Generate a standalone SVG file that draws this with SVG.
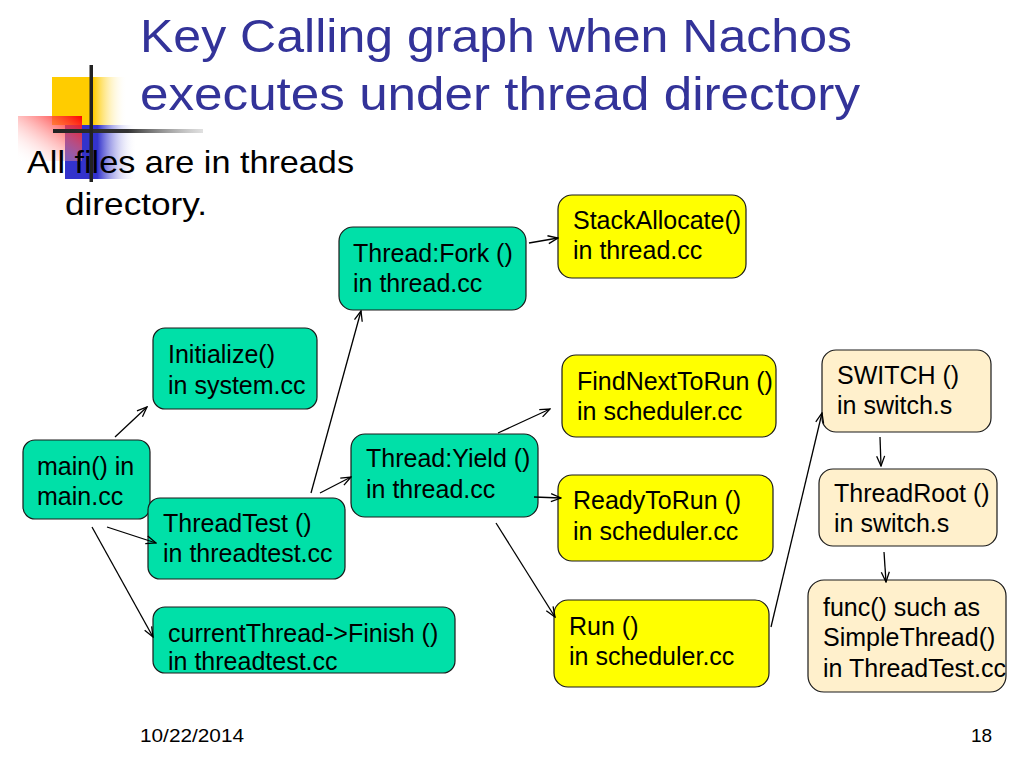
<svg xmlns="http://www.w3.org/2000/svg" width="1024" height="768" viewBox="0 0 1024 768">
<defs>
<linearGradient id="gy" x1="0" y1="0" x2="1" y2="0"><stop offset="0" stop-color="#FFCC00"/><stop offset="0.55" stop-color="#FFCC00"/><stop offset="1" stop-color="#FFFFFF" stop-opacity="0"/></linearGradient>
<linearGradient id="gb" x1="0" y1="0" x2="1" y2="0"><stop offset="0" stop-color="#3333CC"/><stop offset="0.45" stop-color="#3333CC"/><stop offset="1" stop-color="#FFFFFF" stop-opacity="0"/></linearGradient>
<linearGradient id="gr" x1="1" y1="0" x2="0" y2="1"><stop offset="0" stop-color="#FF0000"/><stop offset="1" stop-color="#FFFFFF" stop-opacity="0"/></linearGradient>
<linearGradient id="gl" x1="0" y1="0" x2="1" y2="0"><stop offset="0" stop-color="#222222"/><stop offset="0.5" stop-color="#333333"/><stop offset="1" stop-color="#999999" stop-opacity="0.3"/></linearGradient>
<marker id="ah" markerWidth="12" markerHeight="10" refX="11" refY="5" orient="auto" markerUnits="userSpaceOnUse"><path d="M1,1 L11,5 L1,9" fill="none" stroke="#000" stroke-width="1.3"/></marker>
<clipPath id="cf"><rect x="808" y="580" width="200" height="112"/></clipPath>
<style>
.t{font-family:"Liberation Sans",Arial,sans-serif;font-size:25px;fill:#000}
.g{fill:#00E0A8;stroke:#1a1a1a;stroke-width:1.2}
.y{fill:#FFFF00;stroke:#1a1a1a;stroke-width:1.2}
.b{fill:#FFF0CC;stroke:#1a1a1a;stroke-width:1.2}
.c line{stroke:#000;stroke-width:1.3;marker-end:url(#ah)}
</style>
</defs>
<rect width="1024" height="768" fill="#FFFFFF"/>
<g id="decor">
<rect x="52" y="77" width="75" height="48" fill="url(#gy)"/>
<rect x="65" y="125" width="72" height="54" fill="url(#gb)"/>
<rect x="18" y="116" width="64" height="45" fill="url(#gr)"/>
<rect x="53" y="129" width="150" height="4" fill="url(#gl)"/>
<rect x="89.5" y="65" width="3.5" height="117" fill="#222222"/>
</g>
<g id="title" font-family="'Liberation Sans',Arial,sans-serif" font-size="47" fill="#333399">
<text x="140" y="52" textLength="712" lengthAdjust="spacingAndGlyphs">Key Calling graph when Nachos</text>
<text x="140" y="110" textLength="720" lengthAdjust="spacingAndGlyphs">executes under thread directory</text>
</g>
<g id="body" font-family="'Liberation Sans',Arial,sans-serif" font-size="32" fill="#000">
<text x="27" y="173" textLength="327" lengthAdjust="spacingAndGlyphs">All files are in threads</text>
<text x="65" y="215" textLength="142" lengthAdjust="spacingAndGlyphs">directory.</text>
</g>
<g id="main"><rect class="g" x="23" y="440" width="127" height="79" rx="12"/><text class="t" x="37" y="475">main() in</text><text class="t" x="37" y="505">main.cc</text></g>
<g id="initialize"><rect class="g" x="153" y="328" width="164" height="81" rx="12"/><text class="t" x="168" y="363">Initialize()</text><text class="t" x="168" y="394">in system.cc</text></g>
<g id="threadtest"><rect class="g" x="148" y="498" width="197" height="81" rx="12"/><text class="t" x="163" y="532">ThreadTest ()</text><text class="t" x="163" y="562">in threadtest.cc</text></g>
<g id="finish"><rect class="g" x="153" y="607" width="302" height="66" rx="12"/><text class="t" x="168" y="642">currentThread-&gt;Finish ()</text><text class="t" x="168" y="670">in threadtest.cc</text></g>
<g id="fork"><rect class="g" x="339" y="227" width="187" height="83" rx="14"/><text class="t" x="353" y="262">Thread:Fork ()</text><text class="t" x="353" y="292">in thread.cc</text></g>
<g id="yield"><rect class="g" x="351" y="434" width="187" height="83" rx="14"/><text class="t" x="366" y="467">Thread:Yield ()</text><text class="t" x="366" y="498">in thread.cc</text></g>
<g id="stackallocate"><rect class="y" x="558" y="195" width="188" height="83" rx="14"/><text class="t" x="573" y="229">StackAllocate()</text><text class="t" x="573" y="259">in thread.cc</text></g>
<g id="findnexttorun"><rect class="y" x="562" y="355" width="214" height="82" rx="14"/><text class="t" x="577" y="390">FindNextToRun ()</text><text class="t" x="577" y="420">in scheduler.cc</text></g>
<g id="readytorun"><rect class="y" x="558" y="475" width="215" height="86" rx="14"/><text class="t" x="573" y="509">ReadyToRun ()</text><text class="t" x="573" y="540">in scheduler.cc</text></g>
<g id="run"><rect class="y" x="554" y="600" width="215" height="87" rx="14"/><text class="t" x="569" y="635">Run ()</text><text class="t" x="569" y="665">in scheduler.cc</text></g>
<g id="switch"><rect class="b" x="822" y="350" width="169" height="82" rx="14"/><text class="t" x="837" y="384">SWITCH ()</text><text class="t" x="837" y="414">in switch.s</text></g>
<g id="threadroot"><rect class="b" x="819" y="469" width="178" height="77" rx="14"/><text class="t" x="834" y="502">ThreadRoot ()</text><text class="t" x="834" y="532">in switch.s</text></g>
<g id="func"><rect class="b" x="808" y="580" width="198" height="112" rx="16"/><g clip-path="url(#cf)"><text class="t" x="823" y="616">func() such as</text><text class="t" x="823" y="646">SimpleThread()</text><text class="t" x="823" y="677">in ThreadTest.cc</text></g></g>
<g class="c" id="connectors">
<line x1="115" y1="437" x2="147" y2="407"/>
<line x1="107" y1="527" x2="156" y2="543"/>
<line x1="92" y1="527" x2="153" y2="637"/>
<line x1="311" y1="493" x2="361" y2="311"/>
<line x1="320" y1="493" x2="351" y2="477"/>
<line x1="529" y1="243" x2="558" y2="238"/>
<line x1="498" y1="433" x2="550" y2="409"/>
<line x1="534" y1="497" x2="561" y2="498"/>
<line x1="496" y1="523" x2="555" y2="617"/>
<line x1="771" y1="627" x2="822" y2="413"/>
<line x1="880" y1="437" x2="881" y2="466"/>
<line x1="884" y1="552" x2="886" y2="582"/>
</g>
<g id="footer" font-family="'Liberation Sans',Arial,sans-serif" font-size="19" fill="#000">
<text x="140" y="742" textLength="104" lengthAdjust="spacingAndGlyphs">10/22/2014</text>
<text x="971" y="742">18</text>
</g>
</svg>
